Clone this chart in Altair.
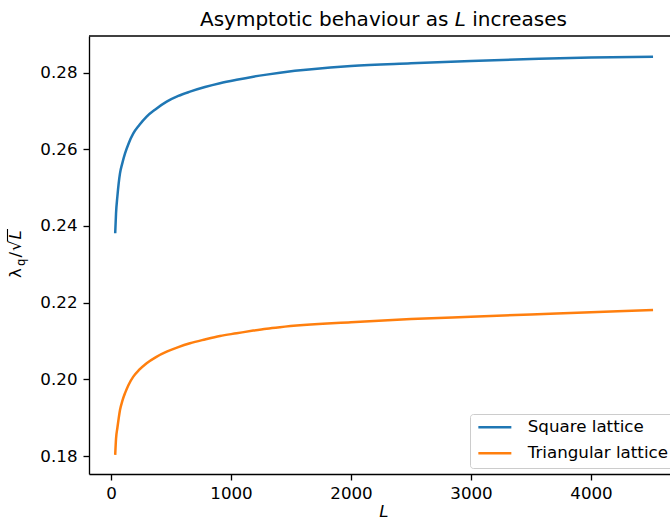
import altair as alt
import pandas as pd

# Sampled system sizes L and the normalised eigenvalue lambda_q / sqrt(L)
L_values = [35, 42, 53, 64, 75, 94, 117, 147, 186, 236, 297, 375, 464, 561,
            658, 783, 908, 1047, 1186, 1297, 1408, 2000, 2500, 3000, 3500,
            4000, 4517]
square_lattice = [0.2381, 0.2433, 0.2476, 0.2511, 0.2537, 0.2563, 0.2589,
                  0.2615, 0.2641, 0.2663, 0.2685, 0.2705, 0.2724, 0.2739,
                  0.2750, 0.2762, 0.2772, 0.2781, 0.2789, 0.27945, 0.27995,
                  0.2817, 0.2824, 0.2830, 0.2835, 0.2839, 0.2841]
triangular_lattice = [0.1803, 0.1845, 0.1873, 0.1898, 0.1920, 0.1943, 0.1964,
                      0.1986, 0.2007, 0.2025, 0.2042, 0.2058, 0.2072, 0.2084,
                      0.2094, 0.2104, 0.2113, 0.2120, 0.2127, 0.2132, 0.2136,
                      0.2149, 0.2157, 0.2163, 0.2169, 0.2175, 0.2181]

series_names = ["Square lattice", "Triangular lattice"]
series_colors = ["#1f77b4", "#ff7f0e"]
x_ticks = [0, 1000, 2000, 3000, 4000]
y_ticks = [0.18, 0.20, 0.22, 0.24, 0.26, 0.28]

rows = []
for name, vals in zip(series_names, [square_lattice, triangular_lattice]):
    for L, v in zip(L_values, vals):
        rows.append({"L": L, "ratio": v, "series": name})
df = pd.DataFrame(rows)

FONT = "DejaVu Sans"
W, H = 581, 438
FS = 16.7

x_scale = alt.Scale(domain=[-183.3, 4658.3], nice=False, zero=False)
y_scale = alt.Scale(domain=[0.175307, 0.289518], nice=False, zero=False)

lines = alt.Chart(df).mark_line(strokeWidth=2.5, interpolate="monotone").encode(
    x=alt.X("L:Q", scale=x_scale, title=None,
            axis=alt.Axis(values=x_ticks, format="d", labelPadding=5)),
    y=alt.Y("ratio:Q", scale=y_scale, title=None,
            axis=alt.Axis(values=y_ticks, format=".2f", labelPadding=6)),
    color=alt.Color(
        "series:N",
        scale=alt.Scale(domain=series_names, range=series_colors),
        legend=alt.Legend(
            title=None, orient="none", legendX=381, legendY=378,
            symbolType="M-1,0H5.6", symbolSize=100, symbolStrokeWidth=2.5,
            labelFont=FONT, labelFontSize=FS, labelColor="black",
            labelOffset=36, padding=5, rowPadding=8,
            strokeColor="#cccccc", fillColor="white", cornerRadius=3,
        ),
    ),
)


def text_layer(text, x, y, size=FS, style="normal", angle=0, align="left"):
    return alt.Chart(pd.DataFrame({"t": [text]})).mark_text(
        font=FONT, fontSize=size, fontStyle=style, angle=angle,
        align=align, baseline="alphabetic", color="black",
    ).encode(text="t:N", x=alt.value(x), y=alt.value(y))


one = pd.DataFrame({"k": [0]})

# top spine of the axes frame
top_rule = alt.Chart(one).mark_rule(color="black", strokeWidth=1.33).encode(
    x=alt.value(0), x2=alt.value(W), y=alt.value(0)
)

# title with italic L
title_parts = [
    text_layer("Asymptotic behaviour as", 111, -10, size=20),
    text_layer("L", 365.8, -10, size=20, style="italic"),
    text_layer("increases", 383.3, -10, size=20),
]

# x axis label
x_label = text_layer("L", 295, 481, style="italic", align="center")

# y axis label: lambda_q / sqrt(L), rotated
y_label = [
    text_layer("λ", -68, 242, angle=270),
    text_layer("q", -64.5, 230, size=11.7, angle=270),
    text_layer("/", -68, 221.5, angle=270),
    text_layer("√", -68, 215, angle=270),
    text_layer("L", -68, 203.5, style="italic", angle=270),
]
overline = alt.Chart(one).mark_rule(color="black", strokeWidth=1.1).encode(
    x=alt.value(-81.5), y=alt.value(193), y2=alt.value(205)
)

chart = alt.layer(
    lines, top_rule, *title_parts, x_label, *y_label, overline
).properties(
    width=W, height=H,
    autosize="none",
    padding={"left": 89, "top": 36, "right": 0, "bottom": 47},
).configure_view(stroke=None).configure_axis(
    grid=False,
    domainColor="black", domainWidth=1.33,
    tickColor="black", tickWidth=1.33, tickSize=6,
    labelFont=FONT, labelFontSize=FS, labelColor="black",
)

chart.save("out.html", embed_options={"renderer": "svg", "actions": False})
